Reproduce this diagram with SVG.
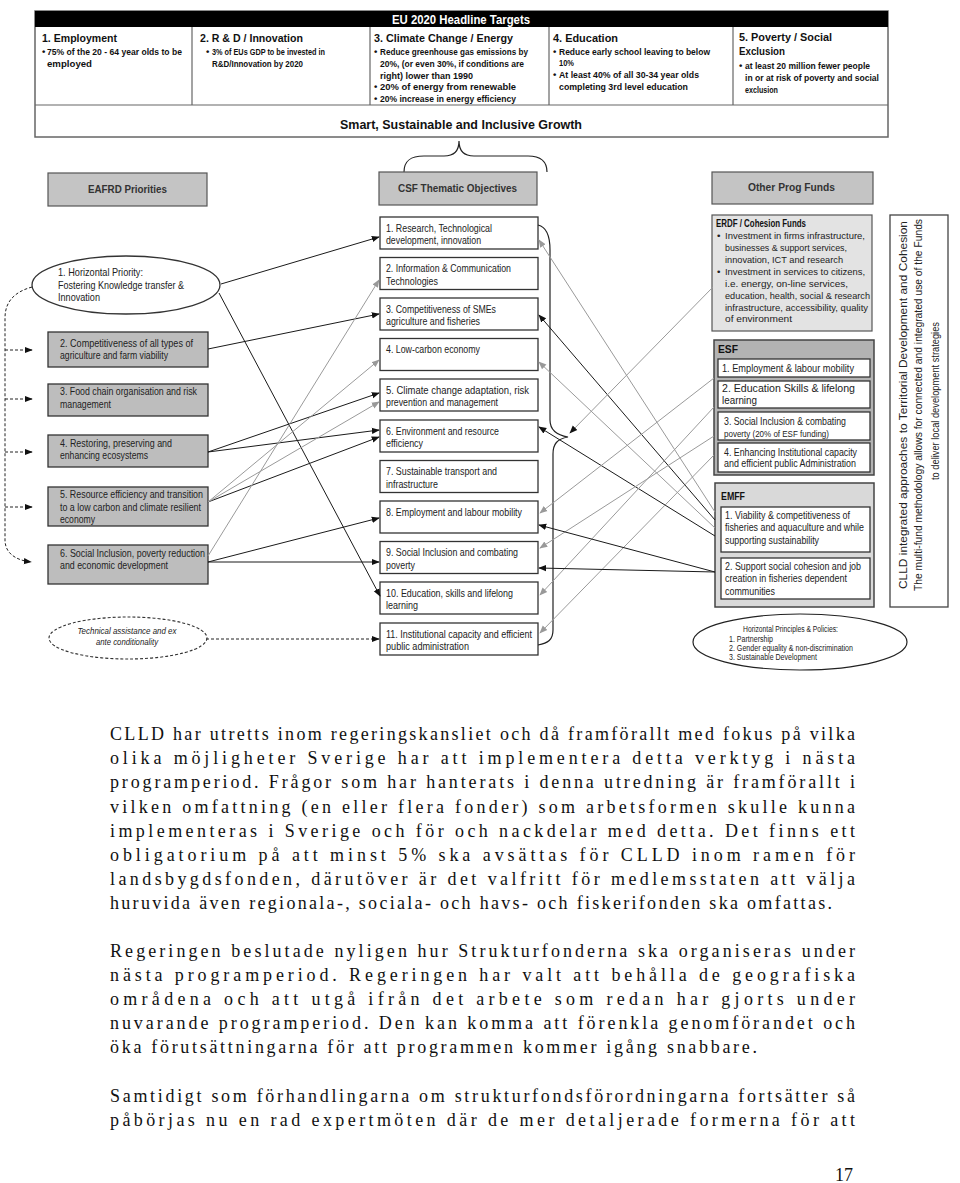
<svg xmlns="http://www.w3.org/2000/svg" width="960" height="1183" viewBox="0 0 960 1183">
<style>
.hb{font-family:"Liberation Sans",Arial,sans-serif;font-weight:bold;fill:#111}
.hs{font-family:"Liberation Sans",Arial,sans-serif;font-weight:bold;font-size:9.6px;fill:#111}
.a{font-family:"Liberation Sans",Arial,sans-serif;font-size:11px;fill:#222}
.s{font-family:"Liberation Sans",Arial,sans-serif;font-size:8.5px;fill:#222}
.c{font-family:"Liberation Sans",Arial,sans-serif;font-size:9.8px;fill:#222}
.gh{font-family:"Liberation Sans",Arial,sans-serif;font-weight:bold;font-size:11px;fill:#333}
.v{font-family:"Liberation Sans",Arial,sans-serif;font-size:11px;fill:#222}
.body{font-family:"Liberation Serif","Times New Roman",serif;font-size:18px;fill:#111}
.gbox{fill:#c4c4c4;stroke:#555;stroke-width:1.2}
.lbox{fill:#bdbdbd;stroke:#333;stroke-width:1.3}
.wbox{fill:#fff;stroke:#333;stroke-width:1.3}
.k{stroke:#1a1a1a;stroke-width:1;fill:none}
.g{stroke:#9a9a9a;stroke-width:1;fill:none}
.dash{stroke:#222;stroke-width:1;fill:none;stroke-dasharray:3,2}
</style>
<defs>
<marker id="ab" viewBox="0 0 10 10" refX="9" refY="5" markerWidth="8" markerHeight="8" markerUnits="userSpaceOnUse" orient="auto"><path d="M0,1 L10,5 L0,9 z" fill="#111"/></marker>
<marker id="ag" viewBox="0 0 10 10" refX="9" refY="5" markerWidth="8" markerHeight="8" markerUnits="userSpaceOnUse" orient="auto"><path d="M0,1 L10,5 L0,9 z" fill="#999"/></marker>
</defs>
<rect width="960" height="1183" fill="#fff"/>

<g id="headline-targets">
<rect x="35" y="11" width="853" height="126" fill="#fff" stroke="#666" stroke-width="1.5"/>
<rect x="35" y="11" width="853" height="16" fill="#000"/>
<text x="392" y="23.5" class="hb" font-size="12" style="fill:#fff" textLength="138" lengthAdjust="spacingAndGlyphs">EU 2020 Headline Targets</text>
<line x1="35" y1="105" x2="888" y2="105" stroke="#666" stroke-width="1.2"/>
<g stroke="#666" stroke-width="1.2"><line x1="192" y1="27" x2="192" y2="105"/><line x1="370" y1="27" x2="370" y2="105"/><line x1="549" y1="27" x2="549" y2="105"/><line x1="733" y1="27" x2="733" y2="105"/></g>
<text x="42" y="42" class="hb" font-size="11.5" textLength="75" lengthAdjust="spacingAndGlyphs">1.  Employment</text>
<text x="42" y="54.5" class="hs">•</text><text x="47" y="54.5" class="hs" textLength="135" lengthAdjust="spacingAndGlyphs">75% of the 20 - 64 year olds to be</text>
<text x="47" y="66.5" class="hs" textLength="45" lengthAdjust="spacingAndGlyphs">employed</text>
<text x="200" y="42" class="hb" font-size="11.5" textLength="103" lengthAdjust="spacingAndGlyphs">2.  R &amp; D / Innovation</text>
<text x="206" y="54.5" class="hs">•</text><text x="212" y="54.5" class="hs" textLength="113" lengthAdjust="spacingAndGlyphs">3% of EUs GDP to be invested in</text>
<text x="212" y="66.5" class="hs" textLength="91" lengthAdjust="spacingAndGlyphs">R&amp;D/Innovation by 2020</text>
<text x="374" y="42" class="hb" font-size="11.5" textLength="139" lengthAdjust="spacingAndGlyphs">3.  Climate Change / Energy</text>
<text x="374" y="54.5" class="hs">•</text><text x="380" y="54.5" class="hs" textLength="148" lengthAdjust="spacingAndGlyphs">Reduce greenhouse gas emissions by</text>
<text x="380" y="66.5" class="hs" textLength="144" lengthAdjust="spacingAndGlyphs">20%, (or even 30%, if conditions are</text>
<text x="380" y="78.5" class="hs" textLength="93" lengthAdjust="spacingAndGlyphs">right) lower than 1990</text>
<text x="374" y="90" class="hs">•</text><text x="380" y="90" class="hs" textLength="136" lengthAdjust="spacingAndGlyphs">20% of energy from renewable</text>
<text x="374" y="101.5" class="hs">•</text><text x="380" y="101.5" class="hs" textLength="136" lengthAdjust="spacingAndGlyphs">20% increase in energy efficiency</text>
<text x="553" y="42" class="hb" font-size="11.5" textLength="65" lengthAdjust="spacingAndGlyphs">4.  Education</text>
<text x="553" y="54.5" class="hs">•</text><text x="559" y="54.5" class="hs" textLength="151" lengthAdjust="spacingAndGlyphs">Reduce early school leaving to below</text>
<text x="559" y="66" class="hs" textLength="15" lengthAdjust="spacingAndGlyphs">10%</text>
<text x="553" y="78" class="hs">•</text><text x="559" y="78" class="hs" textLength="140" lengthAdjust="spacingAndGlyphs">At least 40% of all 30-34 year olds</text>
<text x="559" y="89.5" class="hs" textLength="129" lengthAdjust="spacingAndGlyphs">completing 3rd level education</text>
<text x="739" y="41" class="hb" font-size="11.5" textLength="93" lengthAdjust="spacingAndGlyphs">5.  Poverty / Social</text>
<text x="739" y="55" class="hb" font-size="11.5" textLength="46" lengthAdjust="spacingAndGlyphs">Exclusion</text>
<text x="739" y="69" class="hs">•</text><text x="745" y="69" class="hs" textLength="125" lengthAdjust="spacingAndGlyphs">at least 20 million fewer people</text>
<text x="745" y="81" class="hs" textLength="134" lengthAdjust="spacingAndGlyphs">in or at risk of poverty and social</text>
<text x="745" y="92.5" class="hs" textLength="33" lengthAdjust="spacingAndGlyphs">exclusion</text>
<text x="340" y="128.5" class="hb" font-size="13" textLength="242" lengthAdjust="spacingAndGlyphs">Smart, Sustainable and Inclusive Growth</text>
</g>

<g id="brace-top">
<path d="M404,172 C404,161 410,156 424,156 L444,156 C454,156 459,151 459,141 C459,151 464,156 474,156 L528,156 C541,156 547,161 547,172" stroke="#222" stroke-width="1.2" fill="none"/>
</g>

<g id="eafrd-header"><rect x="48" y="173" width="159" height="33" class="gbox"/><text x="88" y="192.5" class="gh" textLength="79" lengthAdjust="spacingAndGlyphs">EAFRD Priorities</text></g>
<g id="csf-header"><rect x="379" y="172" width="158" height="33" class="gbox"/><text x="398" y="191.5" class="gh" textLength="119" lengthAdjust="spacingAndGlyphs">CSF Thematic Objectives</text></g>
<g id="other-header"><rect x="712" y="172" width="161" height="32" class="gbox"/><text x="748" y="191" class="gh" textLength="87" lengthAdjust="spacingAndGlyphs">Other Prog Funds</text></g>

<g id="eafrd-1"><ellipse cx="126" cy="285" rx="94" ry="29" fill="#fff" stroke="#333" stroke-width="1.3"/>
<text x="58" y="276" class="a" textLength="85" lengthAdjust="spacingAndGlyphs">1. Horizontal Priority:</text>
<text x="58" y="288.5" class="a" textLength="126" lengthAdjust="spacingAndGlyphs">Fostering Knowledge transfer &amp;</text>
<text x="58" y="301" class="a" textLength="42" lengthAdjust="spacingAndGlyphs">Innovation</text></g>
<g id="eafrd-2"><rect x="48" y="332" width="160" height="35" class="lbox"/>
<text x="60" y="346.5" class="a" textLength="133" lengthAdjust="spacingAndGlyphs">2. Competitiveness of all types of</text>
<text x="60" y="358.5" class="a" textLength="108" lengthAdjust="spacingAndGlyphs">agriculture and farm viability</text></g>
<g id="eafrd-3"><rect x="48" y="384" width="160" height="32" class="lbox"/>
<text x="60" y="394.5" class="a" textLength="137" lengthAdjust="spacingAndGlyphs">3. Food chain organisation and risk</text>
<text x="60" y="407.5" class="a" textLength="51" lengthAdjust="spacingAndGlyphs">management</text></g>
<g id="eafrd-4"><rect x="48" y="435" width="160" height="32" class="lbox"/>
<text x="60" y="446.5" class="a" textLength="112" lengthAdjust="spacingAndGlyphs">4. Restoring, preserving and</text>
<text x="60" y="458.5" class="a" textLength="88" lengthAdjust="spacingAndGlyphs">enhancing ecosystems</text></g>
<g id="eafrd-5"><rect x="48" y="487" width="160" height="39" class="lbox"/>
<text x="60" y="497.5" class="a" textLength="143" lengthAdjust="spacingAndGlyphs">5. Resource efficiency and transition</text>
<text x="60" y="510.5" class="a" textLength="141" lengthAdjust="spacingAndGlyphs">to a low carbon and climate resilient</text>
<text x="60" y="522.5" class="a" textLength="35" lengthAdjust="spacingAndGlyphs">economy</text></g>
<g id="eafrd-6"><rect x="48" y="545" width="160" height="39" class="lbox"/>
<text x="60" y="556.5" class="a" textLength="145" lengthAdjust="spacingAndGlyphs">6. Social Inclusion, poverty reduction</text>
<text x="60" y="568.5" class="a" textLength="108" lengthAdjust="spacingAndGlyphs">and economic development</text></g>
<g id="technical-assistance"><ellipse cx="128" cy="638" rx="79" ry="21" fill="#fff" stroke="#333" stroke-width="1.1" stroke-dasharray="3,2"/>
<text x="127" y="633.5" class="s" font-style="italic" font-size="9.5" text-anchor="middle" textLength="99" lengthAdjust="spacingAndGlyphs">Technical assistance and ex</text>
<text x="127" y="645" class="s" font-style="italic" font-size="9.5" text-anchor="middle" textLength="62" lengthAdjust="spacingAndGlyphs">ante conditionality</text></g>

<g id="csf-1"><rect x="380" y="217" width="158" height="32" class="wbox"/><text x="386" y="231.5" class="a" textLength="106" lengthAdjust="spacingAndGlyphs">1. Research, Technological</text><text x="386" y="244" class="a" textLength="95" lengthAdjust="spacingAndGlyphs">development, innovation</text></g>
<g id="csf-2"><rect x="380" y="257.5" width="158" height="32" class="wbox"/><text x="386" y="272" class="a" textLength="125" lengthAdjust="spacingAndGlyphs">2. Information &amp; Communication</text><text x="386" y="284.5" class="a" textLength="52" lengthAdjust="spacingAndGlyphs">Technologies</text></g>
<g id="csf-3"><rect x="380" y="298" width="158" height="32" class="wbox"/><text x="386" y="312.5" class="a" textLength="110" lengthAdjust="spacingAndGlyphs">3. Competitiveness of SMEs</text><text x="386" y="325" class="a" textLength="94" lengthAdjust="spacingAndGlyphs">agriculture and fisheries</text></g>
<g id="csf-4"><rect x="380" y="338.5" width="158" height="32" class="wbox"/><text x="386" y="353" class="a" textLength="94" lengthAdjust="spacingAndGlyphs">4. Low-carbon economy</text></g>
<g id="csf-5"><rect x="380" y="379" width="158" height="32" class="wbox"/><text x="386" y="393.5" class="a" textLength="143" lengthAdjust="spacingAndGlyphs">5. Climate change adaptation, risk</text><text x="386" y="406" class="a" textLength="112" lengthAdjust="spacingAndGlyphs">prevention and management</text></g>
<g id="csf-6"><rect x="380" y="420" width="158" height="32" class="wbox"/><text x="386" y="434.5" class="a" textLength="113" lengthAdjust="spacingAndGlyphs">6. Environment and resource</text><text x="386" y="447" class="a" textLength="37" lengthAdjust="spacingAndGlyphs">efficiency</text></g>
<g id="csf-7"><rect x="380" y="460.5" width="158" height="32" class="wbox"/><text x="386" y="475" class="a" textLength="111" lengthAdjust="spacingAndGlyphs">7. Sustainable transport and</text><text x="386" y="487.5" class="a" textLength="52" lengthAdjust="spacingAndGlyphs">infrastructure</text></g>
<g id="csf-8"><rect x="380" y="501" width="158" height="32" class="wbox"/><text x="386" y="515.5" class="a" textLength="136" lengthAdjust="spacingAndGlyphs">8. Employment and labour mobility</text></g>
<g id="csf-9"><rect x="380" y="541.5" width="158" height="32" class="wbox"/><text x="386" y="556" class="a" textLength="132" lengthAdjust="spacingAndGlyphs">9. Social Inclusion and combating</text><text x="386" y="568.5" class="a" textLength="29" lengthAdjust="spacingAndGlyphs">poverty</text></g>
<g id="csf-10"><rect x="380" y="582" width="158" height="32" class="wbox"/><text x="386" y="596.5" class="a" textLength="127" lengthAdjust="spacingAndGlyphs">10. Education, skills and lifelong</text><text x="386" y="609" class="a" textLength="32" lengthAdjust="spacingAndGlyphs">learning</text></g>
<g id="csf-11"><rect x="380" y="623" width="158" height="32" class="wbox"/><text x="386" y="637.5" class="a" textLength="146" lengthAdjust="spacingAndGlyphs">11. Institutional capacity and efficient</text><text x="386" y="650" class="a" textLength="83" lengthAdjust="spacingAndGlyphs">public administration</text></g>

<g id="brace-right">
<path d="M538,225 C547,227 550,236 550,250 L550,420 C550,430 556,435 568,437 C557,439 553,444 553,454 L553,630 C553,640 548,643 538,645" stroke="#222" stroke-width="1.2" fill="none"/>
</g>

<g id="erdf"><rect x="712" y="215" width="160" height="116" fill="#e3e3e3" stroke="#555" stroke-width="1.2"/>
<text x="716" y="227" class="hb" font-size="10" textLength="90" lengthAdjust="spacingAndGlyphs">ERDF / Cohesion Funds</text>
<text x="717" y="239" class="c">•</text><text x="717" y="275" class="c">•</text>
<text x="725" y="239" class="c" textLength="140" lengthAdjust="spacingAndGlyphs">Investment in firms infrastructure,</text>
<text x="725" y="251" class="c" textLength="122" lengthAdjust="spacingAndGlyphs">businesses &amp; support services,</text>
<text x="725" y="262.5" class="c" textLength="118" lengthAdjust="spacingAndGlyphs">innovation, ICT and research</text>
<text x="725" y="275" class="c" textLength="140" lengthAdjust="spacingAndGlyphs">Investment in services to citizens,</text>
<text x="725" y="286.5" class="c" textLength="123" lengthAdjust="spacingAndGlyphs">i.e. energy, on-line services,</text>
<text x="725" y="298.5" class="c" textLength="145" lengthAdjust="spacingAndGlyphs">education, health, social &amp; research</text>
<text x="725" y="310.5" class="c" textLength="143" lengthAdjust="spacingAndGlyphs">infrastructure, accessibility, quality</text>
<text x="725" y="322" class="c" textLength="67" lengthAdjust="spacingAndGlyphs">of environment</text></g>

<g id="esf"><rect x="714" y="340" width="160" height="135" fill="#b3b3b3" stroke="#444" stroke-width="1.5"/>
<text x="718" y="353" class="hb" font-size="10.5" textLength="20" lengthAdjust="spacingAndGlyphs">ESF</text>
<rect x="718" y="359" width="152" height="18" class="wbox"/>
<text x="722" y="371.5" class="a" textLength="132" lengthAdjust="spacingAndGlyphs">1. Employment &amp; labour mobility</text>
<rect x="718" y="381" width="152" height="27" class="wbox"/>
<text x="722" y="391.5" class="a" textLength="133" lengthAdjust="spacingAndGlyphs">2. Education Skills &amp; lifelong</text>
<text x="722" y="403.5" class="a" textLength="35" lengthAdjust="spacingAndGlyphs">learning</text>
<rect x="718" y="412" width="152" height="28" class="wbox"/>
<text x="724" y="425" class="a" textLength="122" lengthAdjust="spacingAndGlyphs">3. Social Inclusion &amp; combating</text>
<text x="724" y="437" class="s" textLength="105" lengthAdjust="spacingAndGlyphs">poverty (20% of ESF funding)</text>
<rect x="718" y="443" width="152" height="29" class="wbox"/>
<text x="724" y="455.5" class="a" textLength="133" lengthAdjust="spacingAndGlyphs">4. Enhancing Institutional capacity</text>
<text x="724" y="467" class="a" textLength="132" lengthAdjust="spacingAndGlyphs">and efficient public Administration</text></g>

<g id="emff"><rect x="715" y="483" width="159" height="124" fill="#d9d9d9" stroke="#444" stroke-width="1.5"/>
<text x="721" y="500" class="hb" font-size="10.5" textLength="24" lengthAdjust="spacingAndGlyphs">EMFF</text>
<rect x="721" y="507" width="149" height="45" class="wbox"/>
<text x="725" y="519" class="a" textLength="125" lengthAdjust="spacingAndGlyphs">1. Viability &amp; competitiveness of</text>
<text x="725" y="531" class="a" textLength="139" lengthAdjust="spacingAndGlyphs">fisheries and aquaculture and while</text>
<text x="725" y="543.5" class="a" textLength="94" lengthAdjust="spacingAndGlyphs">supporting sustainability</text>
<rect x="721" y="558" width="149" height="41" class="wbox"/>
<text x="725" y="570" class="a" textLength="136" lengthAdjust="spacingAndGlyphs">2. Support social cohesion and job</text>
<text x="725" y="582" class="a" textLength="122" lengthAdjust="spacingAndGlyphs">creation in fisheries dependent</text>
<text x="725" y="595" class="a" textLength="50" lengthAdjust="spacingAndGlyphs">communities</text></g>

<g id="horizontal-principles"><ellipse cx="800" cy="642" rx="107" ry="28" fill="#fff" stroke="#222" stroke-width="1.2"/>
<text x="743" y="632" class="s" font-size="8" textLength="95" lengthAdjust="spacingAndGlyphs">Horizontal Principles &amp; Policies:</text>
<text x="729" y="641.5" class="s" font-size="8" textLength="44" lengthAdjust="spacingAndGlyphs">1. Partnership</text>
<text x="729" y="650.5" class="s" font-size="8" textLength="124" lengthAdjust="spacingAndGlyphs">2. Gender equality &amp; non-discrimination</text>
<text x="729" y="660" class="s" font-size="8" textLength="88" lengthAdjust="spacingAndGlyphs">3. Sustainable Development</text></g>

<g id="clld-box"><rect x="890" y="215" width="58" height="392" fill="#fff" stroke="#444" stroke-width="1.3"/>
<text transform="translate(907,405) rotate(-90)" class="v" text-anchor="middle" textLength="368" lengthAdjust="spacingAndGlyphs">CLLD integrated approaches to Territorial Development and Cohesion</text>
<text transform="translate(922,405) rotate(-90)" class="v" text-anchor="middle" textLength="372" lengthAdjust="spacingAndGlyphs">The multi-fund methodology allows for connected and integrated use of the Funds</text>
<text transform="translate(939,401) rotate(-90)" class="v" text-anchor="middle" textLength="158" lengthAdjust="spacingAndGlyphs">to deliver local development strategies</text></g>

<g id="connectors">
<path d="M32,287 C14,292 5,302 5,318 L5,540 C5,552 14,560 31,562" class="dash" marker-end="url(#ab)"/>
<line x1="5" y1="350" x2="32" y2="350" class="dash" marker-end="url(#ab)"/>
<line x1="5" y1="399" x2="32" y2="399" class="dash" marker-end="url(#ab)"/>
<line x1="5" y1="452" x2="32" y2="452" class="dash" marker-end="url(#ab)"/>
<line x1="5" y1="507" x2="32" y2="507" class="dash" marker-end="url(#ab)"/>
<line x1="206" y1="639" x2="379" y2="639" class="dash" marker-end="url(#ab)"/>
<line x1="221" y1="284" x2="379" y2="237" class="k" marker-end="url(#ab)"/>
<line x1="219" y1="293" x2="380" y2="596" class="k" marker-end="url(#ab)"/>
<line x1="208" y1="349" x2="379" y2="314" class="k" marker-end="url(#ab)"/>
<line x1="208" y1="452" x2="379" y2="393" class="k" marker-end="url(#ab)"/>
<line x1="208" y1="452" x2="379" y2="430" class="k" marker-end="url(#ab)"/>
<line x1="208" y1="502" x2="379" y2="437" class="k" marker-end="url(#ab)"/>
<line x1="208" y1="502" x2="379" y2="360" class="g" marker-end="url(#ag)"/>
<line x1="208" y1="502" x2="379" y2="402" class="g" marker-end="url(#ag)"/>
<line x1="208" y1="556" x2="379" y2="280" class="g" marker-end="url(#ag)"/>
<line x1="208" y1="562" x2="379" y2="518" class="k" marker-end="url(#ab)"/>
<line x1="208" y1="562" x2="379" y2="562" class="k" stroke="#444" marker-end="url(#ab)"/>
<line x1="715" y1="512" x2="539" y2="240" class="g" marker-end="url(#ag)"/>
<line x1="715" y1="520" x2="539" y2="315" class="k" marker-end="url(#ab)"/>
<line x1="715" y1="528" x2="539" y2="362" class="g" marker-end="url(#ag)"/>
<line x1="715" y1="536" x2="539" y2="427" class="k" marker-end="url(#ab)"/>
<line x1="714" y1="378" x2="540" y2="513" class="g" marker-end="url(#ag)"/>
<line x1="714" y1="407" x2="540" y2="595" class="g" marker-end="url(#ag)"/>
<line x1="714" y1="436" x2="540" y2="548" class="g" marker-end="url(#ag)"/>
<line x1="714" y1="455" x2="540" y2="633" class="g" marker-end="url(#ag)"/>
<line x1="715" y1="572" x2="539" y2="525" class="k" marker-end="url(#ab)"/>
<line x1="715" y1="572" x2="539" y2="568" class="k" marker-end="url(#ab)"/>
<line x1="713" y1="287" x2="570" y2="433" class="g" marker-end="url(#ab)"/>
</g>

<g id="body-text">
<text x="110" y="740" class="body" textLength="745" lengthAdjust="spacing">CLLD har utretts inom regeringskansliet och då framförallt med fokus på vilka</text>
<text x="110" y="764" class="body" textLength="745" lengthAdjust="spacing">olika möjligheter Sverige har att implementera detta verktyg i nästa</text>
<text x="110" y="788" class="body" textLength="745" lengthAdjust="spacing">programperiod. Frågor som har hanterats i denna utredning är framförallt i</text>
<text x="110" y="812.5" class="body" textLength="745" lengthAdjust="spacing">vilken omfattning (en eller flera fonder) som arbetsformen skulle kunna</text>
<text x="110" y="836.5" class="body" textLength="745" lengthAdjust="spacing">implementeras i Sverige och för och nackdelar med detta. Det finns ett</text>
<text x="110" y="861" class="body" textLength="745" lengthAdjust="spacing">obligatorium på att minst 5% ska avsättas för CLLD inom ramen för</text>
<text x="110" y="885" class="body" textLength="745" lengthAdjust="spacing">landsbygdsfonden, därutöver är det valfritt för medlemsstaten att välja</text>
<text x="110" y="909" class="body" textLength="722" lengthAdjust="spacing">huruvida även regionala-, sociala- och havs- och fiskerifonden ska omfattas.</text>
<text x="110" y="957" class="body" textLength="745" lengthAdjust="spacing">Regeringen beslutade nyligen hur Strukturfonderna ska organiseras under</text>
<text x="110" y="981" class="body" textLength="745" lengthAdjust="spacing">nästa programperiod. Regeringen har valt att behålla de geografiska</text>
<text x="110" y="1005" class="body" textLength="745" lengthAdjust="spacing">områdena och att utgå ifrån det arbete som redan har gjorts under</text>
<text x="110" y="1029" class="body" textLength="745" lengthAdjust="spacing">nuvarande programperiod. Den kan komma att förenkla genomförandet och</text>
<text x="110" y="1053" class="body" textLength="647" lengthAdjust="spacing">öka förutsättningarna för att programmen kommer igång snabbare.</text>
<text x="110" y="1102" class="body" textLength="745" lengthAdjust="spacing">Samtidigt som förhandlingarna om strukturfondsförordningarna fortsätter så</text>
<text x="110" y="1126" class="body" textLength="745" lengthAdjust="spacing">påbörjas nu en rad expertmöten där de mer detaljerade formerna för att</text>
<text x="835" y="1181" class="body">17</text>
</g>
</svg>
